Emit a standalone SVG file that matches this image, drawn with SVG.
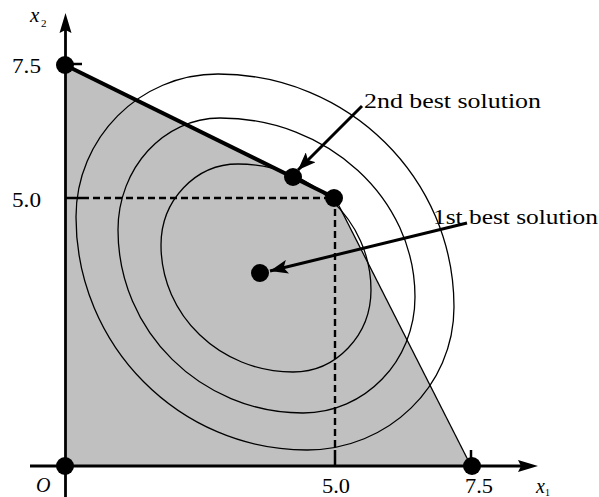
<svg xmlns="http://www.w3.org/2000/svg" width="599" height="497" viewBox="0 0 599 497">
<style>
.lbl{font-family:"Liberation Serif","Times New Roman",serif;font-size:20px;fill:#000}
.it{font-family:"Liberation Serif","Times New Roman",serif;font-style:italic;fill:#000}
.sub{font-family:"Liberation Serif","Times New Roman",serif;fill:#000}
.contour{fill:none;stroke:#000;stroke-width:1.3}
.dash{fill:none;stroke:#000;stroke-width:2.4;stroke-dasharray:7 4}
.tick{stroke:#000;stroke-width:2.5}
.axis{stroke:#000;stroke-width:2.8;fill:none}
.dot{fill:#000}
.arrow{stroke:#000;stroke-width:3;fill:none;marker-end:url(#ah)}
</style>
<defs>
<marker id="ah" markerUnits="userSpaceOnUse" markerWidth="20" markerHeight="14" viewBox="0 0 20 14" refX="18" refY="7" orient="auto">
<path d="M0,0 L18,7 L0,14 L4,7 Z" fill="#000"/>
</marker>
</defs>
<g id="region">
<polygon points="65,466 65,65 335,198 471,466" fill="#c0c0c0"/>
</g>
<g id="contours">
<path class="contour" d="M218,74 C348.3,74 454,178.3 454,307 C454,386 388.2,450 307,450 C179.4,450 76,345.7 76,217 C76,138 139.6,74 218,74 Z"/>
<path class="contour" d="M220,118 C327.7,118 415,198.1 415,297 C415,361.1 364.9,413 303,413 C200.8,413 118,331.1 118,230 C118,168.1 163.7,118 220,118 Z"/>
<path class="contour" d="M238,164 C311.5,164 371,220.4 371,290 C371,335.3 336.1,372 293,372 C220.1,372 161,315.1 161,245 C161,200.3 195.5,164 238,164 Z"/>
</g>
<g id="guides">
<line class="dash" x1="82" y1="198" x2="335" y2="198"/>
<line class="dash" x1="335" y1="198" x2="335" y2="450"/>
<line class="tick" x1="65" y1="198" x2="82" y2="198"/>
<line class="tick" x1="335" y1="450" x2="335" y2="466"/>
<line class="tick" x1="65" y1="64" x2="82" y2="64"/>
<line class="tick" x1="471" y1="450" x2="471" y2="466"/>
</g>
<g id="boundary">
<line x1="335" y1="198" x2="471" y2="466" stroke="#000" stroke-width="1.3"/>
<line x1="65" y1="65" x2="335" y2="198" stroke="#000" stroke-width="4"/>
</g>
<g id="axes">
<line class="axis" x1="30" y1="466" x2="522" y2="466"/>
<polygon points="538,466 518,460 521,466 518,472" fill="#000"/>
<line class="axis" x1="65.5" y1="497" x2="65.5" y2="29"/>
<polygon points="65.5,13 59.5,33 65.5,30 71.5,33" fill="#000"/>
</g>
<g id="node-origin"><circle class="dot" cx="65" cy="466" r="9"/></g>
<g id="node-y75"><circle class="dot" cx="65" cy="65" r="9"/></g>
<g id="node-x75"><circle class="dot" cx="472" cy="466" r="9"/></g>
<g id="node-corner"><circle class="dot" cx="334" cy="198" r="9"/></g>
<g id="node-second"><circle class="dot" cx="293" cy="177" r="9"/></g>
<g id="node-first"><circle class="dot" cx="260" cy="273" r="9"/></g>
<g id="connectors">
<line class="arrow" x1="362" y1="106" x2="298" y2="170"/>
<line class="arrow" x1="467" y1="223" x2="270" y2="271"/>
</g>
<g id="labels">
<text class="lbl" x="364" y="108" textLength="177" lengthAdjust="spacingAndGlyphs">2nd best solution</text>
<text class="lbl" x="433" y="224" textLength="165" lengthAdjust="spacingAndGlyphs">1st best solution</text>
<text class="lbl" x="12" y="73" textLength="29" lengthAdjust="spacingAndGlyphs">7.5</text>
<text class="lbl" x="12" y="207" textLength="29" lengthAdjust="spacingAndGlyphs">5.0</text>
<text class="lbl" x="322" y="493" textLength="28" lengthAdjust="spacingAndGlyphs">5.0</text>
<text class="lbl" x="465" y="493" textLength="28" lengthAdjust="spacingAndGlyphs">7.5</text>
<text class="it" x="36" y="492" font-size="20">O</text>
<text class="it" x="30" y="22" font-size="21">x</text>
<text class="sub" x="41" y="27" font-size="11">2</text>
<text class="it" x="536" y="493" font-size="20">x</text>
<text class="sub" x="545" y="496" font-size="10">1</text>
</g>
</svg>
